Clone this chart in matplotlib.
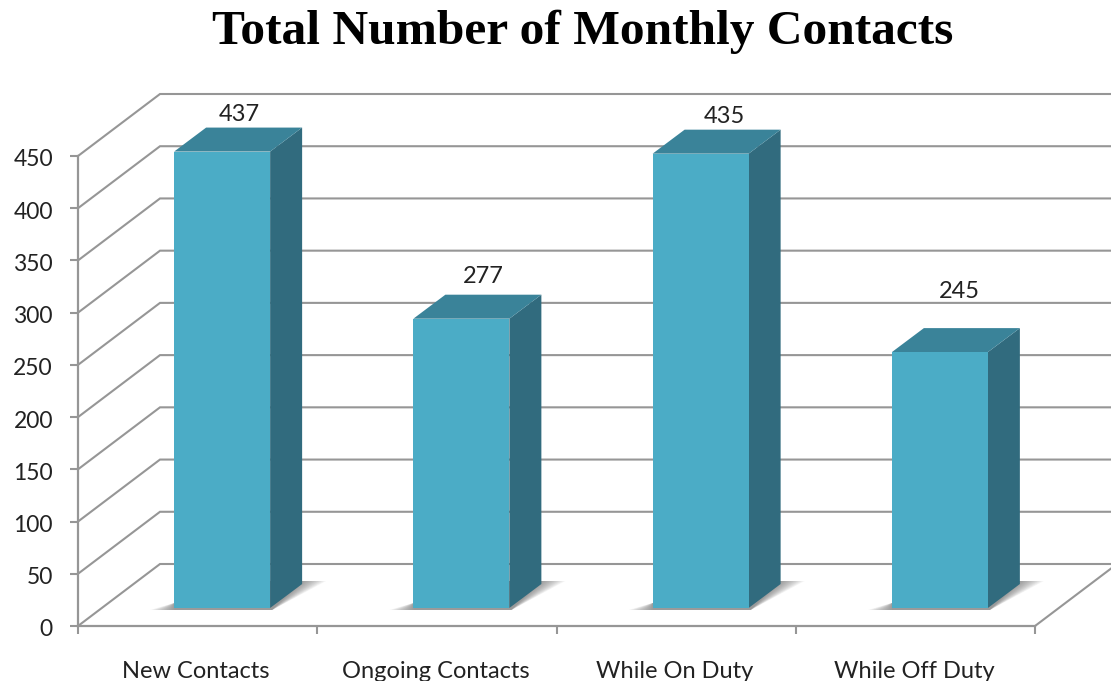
import matplotlib
matplotlib.use("Agg")
import matplotlib.pyplot as plt
from matplotlib.patches import Polygon
from matplotlib.transforms import ScaledTranslation

# ---- data ----
categories = ["New Contacts", "Ongoing Contacts", "While On Duty", "While Off Duty"]
values = [437, 277, 435, 245]
y_ticks = [0, 50, 100, 150, 200, 250, 300, 350, 400, 450]

# label nudges in pixels from the top of each bar (they are not evenly placed)
label_dx = [1, 6, 8, 4]
label_dy = [13, 18, 13, 37]

# ---- layout, in pixels of the 1111x681 picture ----
W, H = 1111, 681
LEFT, RIGHT, TOP, BOTTOM = 78, 1035, 156, 626
X_UNIT = (RIGHT - LEFT) / len(categories)
Y_UNIT = (BOTTOM - TOP) / y_ticks[-1]

# oblique offsets converted to data units
WALL_DX = 82 / X_UNIT
WALL_DY = 62 / Y_UNIT
FLOOR_DX = 24.5 / X_UNIT
FLOOR_DY = 18 / Y_UNIT
BAR_DX = 32 / X_UNIT
BAR_DY = 24 / Y_UNIT
BAR_W = 96 / X_UNIT

GRID = "#969696"
FRONT = "#4bacc6"
SIDE = "#316b7e"
TOPC = "#3a8399"
TEXT = "#222222"

fig = plt.figure(figsize=(W / 100, H / 100), dpi=100, facecolor="white")
ax = fig.add_axes([LEFT / W, 1 - BOTTOM / H, (RIGHT - LEFT) / W, (BOTTOM - TOP) / H])
ax.set_xlim(0, len(categories))
ax.set_ylim(0, y_ticks[-1])
ax.patch.set_visible(False)

for name in ["top", "right"]:
    ax.spines[name].set_visible(False)
for name in ["left", "bottom"]:
    ax.spines[name].set_color(GRID)
    ax.spines[name].set_linewidth(1.6)

# wall and floor grid lines
x_end = len(categories)
for v in y_ticks:
    ax.plot([0, WALL_DX, x_end + WALL_DX], [v, v + WALL_DY, v + WALL_DY],
            color=GRID, lw=1.5, clip_on=False, zorder=1, solid_joinstyle="miter")
ax.plot([x_end, x_end + WALL_DX], [0, WALL_DY], color=GRID, lw=1.5, clip_on=False, zorder=1)

# bars
for i, v in enumerate(values):
    x0 = i + 0.5 + FLOOR_DX - BAR_W / 2
    x1 = x0 + BAR_W
    y0 = FLOOR_DY

    # soft shadow, built from stacked faint polygons
    for k in range(14):
        t = k / 13
        ax.add_patch(Polygon(
            [(x0 - (24 - 24 * t) / X_UNIT, y0 - 2 / Y_UNIT),
             (x1 + 2 / X_UNIT, y0 - 2 / Y_UNIT),
             (x1 + BAR_DX + (24 - 24 * t) / X_UNIT, y0 + BAR_DY + 3 / Y_UNIT),
             (x1, y0 + BAR_DY + 3 / Y_UNIT),
             (x0, y0 + 5 / Y_UNIT)],
            closed=True, fc="#555555", ec="none", alpha=0.06, zorder=2, clip_on=False))

    ax.add_patch(Polygon([(x1, y0), (x1 + BAR_DX, y0 + BAR_DY),
                          (x1 + BAR_DX, v + y0 + BAR_DY), (x1, v + y0)],
                         closed=True, fc=SIDE, ec="none", zorder=3, clip_on=False))
    ax.add_patch(Polygon([(x0, v + y0), (x1, v + y0),
                          (x1 + BAR_DX, v + y0 + BAR_DY), (x0 + BAR_DX, v + y0 + BAR_DY)],
                         closed=True, fc=TOPC, ec="none", zorder=3, clip_on=False))
    ax.add_patch(Polygon([(x0, y0), (x1, y0), (x1, v + y0), (x0, v + y0)],
                         closed=True, fc=FRONT, ec="none", zorder=4, clip_on=False))

    ax.annotate(str(v), xy=(x0 + BAR_W / 2 + BAR_DX / 2, v + y0 + BAR_DY),
                xytext=(label_dx[i] * 0.72, label_dy[i] * 0.72), textcoords="offset points",
                ha="center", va="center", fontsize=17, family="Lato", color=TEXT,
                annotation_clip=False, zorder=6)

# axis ticks and labels
ax.set_yticks(y_ticks)
ax.set_yticklabels([str(v) for v in y_ticks], family="Lato", fontsize=16.5, color=TEXT)
ax.set_xticks(range(len(categories) + 1))
ax.set_xticklabels([""] * (len(categories) + 1))
ax.tick_params(axis="y", length=6, width=1.5, color=GRID, pad=12)
ax.tick_params(axis="x", length=6, width=1.5, color=GRID)
ax.set_axisbelow(False)

# tick labels sit a touch lower than the tick marks
nudge = ScaledTranslation(0, -2 / 100, fig.dpi_scale_trans)
for label in ax.get_yticklabels():
    label.set_transform(label.get_transform() + nudge)

for i, name in enumerate(categories):
    ax.annotate(name, xy=(i + 0.5, 0), xytext=(-1, -32.5), textcoords="offset points",
                ha="center", va="center", fontsize=17, family="Lato", color=TEXT,
                annotation_clip=False)

fig.text(583 / W, 1 - 32 / H, "Total Number of Monthly Contacts", ha="center", va="center",
         family="Liberation Serif", weight="bold", fontsize=35.6, color="black")

fig.savefig("out.png", dpi=100, facecolor="white")
plt.close(fig)
